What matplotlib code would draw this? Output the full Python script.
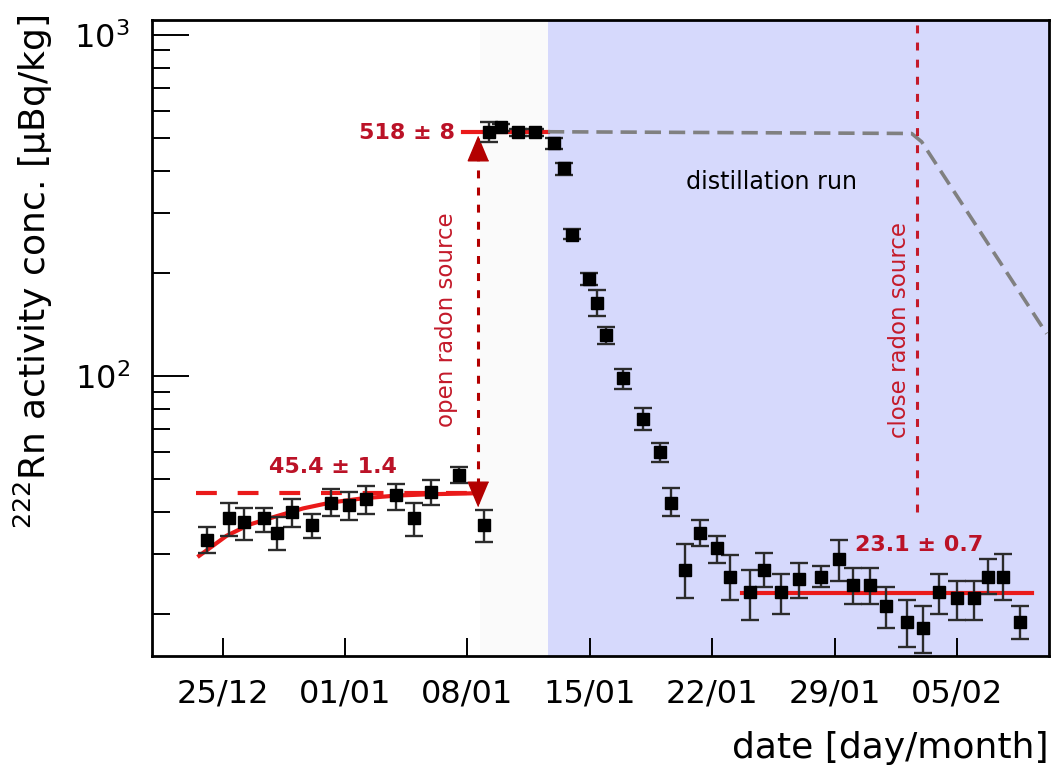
import matplotlib.pyplot as plt
from matplotlib.ticker import FixedLocator, NullFormatter, LogLocator

# days counted from 01/01, concentrations in uBq/kg
day = [-7.88, -6.64, -5.76, -4.65, -3.89, -3.03, -1.89, -0.78, 0.21, 1.18,
       2.94, 3.93, 4.90, 6.51, 7.97,
       8.24, 8.93, 9.89, 10.88, 11.98, 12.50, 13.00, 13.97, 14.44, 14.92,
       15.90, 17.02, 18.03, 18.66, 19.44, 20.28, 21.25, 22.04, 23.18, 23.98,
       24.94, 25.94, 27.23, 28.24, 29.04, 30.02, 30.97, 32.12, 33.07, 33.97,
       35.02, 35.97, 36.77, 37.63, 38.60]
conc = [33.0, 38.3, 37.3, 38.3, 34.6, 40.0, 36.6, 42.4, 41.8, 43.7,
        44.8, 38.3, 45.6, 51.3, 36.6,
        520, 538, 519, 519, 481, 406, 259, 193, 164, 132,
        98.5, 74.6, 60.0, 42.4, 27.0, 34.6, 31.2, 25.8, 23.3, 27.0,
        23.3, 25.4, 25.8, 29.0, 24.4, 24.4, 21.1, 19.0, 18.2, 23.3,
        22.4, 22.4, 25.8, 25.8, 19.0]
conc_hi = [36.0, 42.5, 41.1, 41.1, 38.5, 43.5, 39.3, 46.7, 45.6, 47.5,
           48.3, 42.4, 49.5, 54.2, 40.4,
           557, 548, 531, 531, 497, 422, 269, 201, 179, 139.5,
           104.6, 80.6, 63.7, 47.0, 32.1, 37.7, 34.0, 29.9, 27.0, 30.3,
           26.3, 28.2, 27.7, 33.0, 27.3, 27.3, 24.0, 22.0, 21.1, 26.3,
           25.1, 25.1, 29.0, 30.0, 21.1]
conc_lo = [30.3, 34.0, 33.0, 34.9, 30.8, 36.0, 33.6, 38.8, 37.8, 39.4,
           40.4, 34.0, 41.8, 48.4, 32.7,
           484, 524, 504, 504, 462, 388, 252, 185, 150, 124,
           91.4, 69.5, 55.8, 38.8, 22.3, 31.7, 28.2, 22.0, 19.3, 24.0,
           20.1, 22.3, 24.0, 25.1, 21.4, 21.4, 18.3, 16.0, 15.4, 20.1,
           19.3, 19.3, 23.0, 22.0, 16.9]

# ingrowth fit before opening the source
fit_day = [-8.34, -6.77, -5.44, -3.91, -2.39, -0.86, 1.05, 2.96, 4.87, 7.43]
fit_conc = [29.7, 34.0, 36.7, 38.8, 40.9, 42.5, 43.8, 44.6, 45.0, 45.3]

# expected activity without distillation
exp_day = [11.61, 32.41, 32.98, 40.13]
exp_conc = [520, 514, 486, 133]

level_before = 45.4
level_source = 518
level_after = 23.1

tick_days = [-7, 0, 7, 14, 21, 28, 35]
tick_labels = ["25/12", "01/01", "08/01", "15/01", "22/01", "29/01", "05/02"]

open_day = 7.63
close_day = 32.73
run_start = 11.61

dark_red = "#bb1227"
fit_red = "#ea1a1a"
label_red = "#c41a2a"

fig = plt.figure(figsize=(10.56, 7.65), dpi=100)
ax = fig.add_axes([0.1439, 0.1425, 0.8494, 0.8314])
ax.set_yscale("log")
ax.set_xlim(-11.04, 40.26)
ax.set_ylim(15.1, 1106)

ax.axvspan(7.72, run_start, color="#fafafa", lw=0, zorder=0)
ax.axvspan(run_start, 40.26, color="#d6d9fc", lw=0, zorder=0)

ax.plot(fit_day, fit_conc, color=fit_red, lw=3.0, zorder=3)
ax.plot([-8.52, 7.43], [level_before, level_before], color=fit_red, lw=3.0,
        ls=(0, (5, 5)), zorder=3)
ax.plot([6.75, run_start], [level_source, level_source], color=fit_red, lw=3.0, zorder=3)
ax.plot([22.69, 39.27], [level_after, level_after], color=fit_red, lw=3.0, zorder=3)
ax.plot(exp_day, exp_conc, color="#808080", lw=2.6, ls=(0, (4.5, 2.2)), zorder=3)

ax.plot([close_day, close_day], [39.9, 1106], color=label_red, lw=2.2,
        ls=(0, (2.6, 3.0)), zorder=3)

# open radon source arrow: dashed shaft with two solid heads
ax.plot([open_day, open_day], [42.5, 500], color="#b30000", lw=2.2,
        ls=(0, (2.6, 3.0)), zorder=4)
head_up = [(0, 0), (-0.42, -1), (0.42, -1)]
head_down = [(0, 0), (-0.42, 1), (0.42, 1)]
ax.plot([open_day], [505], marker=head_up, markersize=35, color="#b30000",
        ls="none", zorder=4)
ax.plot([open_day], [41.5], marker=head_down, markersize=35, color="#b30000",
        ls="none", zorder=4)

yerr = [[c - lo for c, lo in zip(conc, conc_lo)],
        [hi - c for c, hi in zip(conc, conc_hi)]]
ax.errorbar(day, conc, yerr=yerr, fmt="s", color="black", ecolor="#2b2b2b",
            elinewidth=1.7, capsize=6.3, capthick=1.7, markersize=8.5, zorder=5)

ax.text(-0.69, 54.2, "45.4 ± 1.4", color=dark_red, fontsize=16, fontweight="bold",
        ha="center", va="center", zorder=6)
ax.text(6.29, 516, "518 ± 8", color=dark_red, fontsize=16, fontweight="bold",
        ha="right", va="center", zorder=6)
ax.text(32.85, 31.9, "23.1 ± 0.7", color=dark_red, fontsize=16, fontweight="bold",
        ha="center", va="center", zorder=6)
ax.text(24.42, 370, "distillation run", color="black", fontsize=17.2,
        ha="center", va="center", zorder=6)
ax.text(5.78, 146, "open radon source", color=label_red, fontsize=16.5,
        rotation=90, ha="center", va="center", zorder=6)
ax.text(31.74, 136, "close radon source", color=label_red, fontsize=16.5,
        rotation=90, ha="center", va="center", zorder=6)

ax.xaxis.set_major_locator(FixedLocator(tick_days))
ax.set_xticklabels(tick_labels)
ax.yaxis.set_major_locator(LogLocator(base=10))
ax.yaxis.set_minor_locator(LogLocator(base=10, subs=range(2, 10)))
ax.yaxis.set_minor_formatter(NullFormatter())

ax.tick_params(axis="x", which="major", direction="in", length=13, width=1.4,
               labelsize=23, pad=16, top=False)
ax.tick_params(axis="y", which="major", direction="in", length=26.5, width=1.4,
               labelsize=23, pad=16, right=False)
ax.tick_params(axis="y", which="minor", direction="in", length=13, width=1.4, right=False)
for sp in ax.spines.values():
    sp.set_linewidth(2.0)

ax.set_ylabel(r"$^{222}$Rn activity conc. [µBq/kg]", fontsize=26)
ax.yaxis.set_label_coords(-0.108, 0.604)
ax.set_xlabel("date [day/month]", fontsize=26, loc="right")
ax.xaxis.set_label_coords(1.0, -0.118)

fig.savefig("out.png", dpi=100)
